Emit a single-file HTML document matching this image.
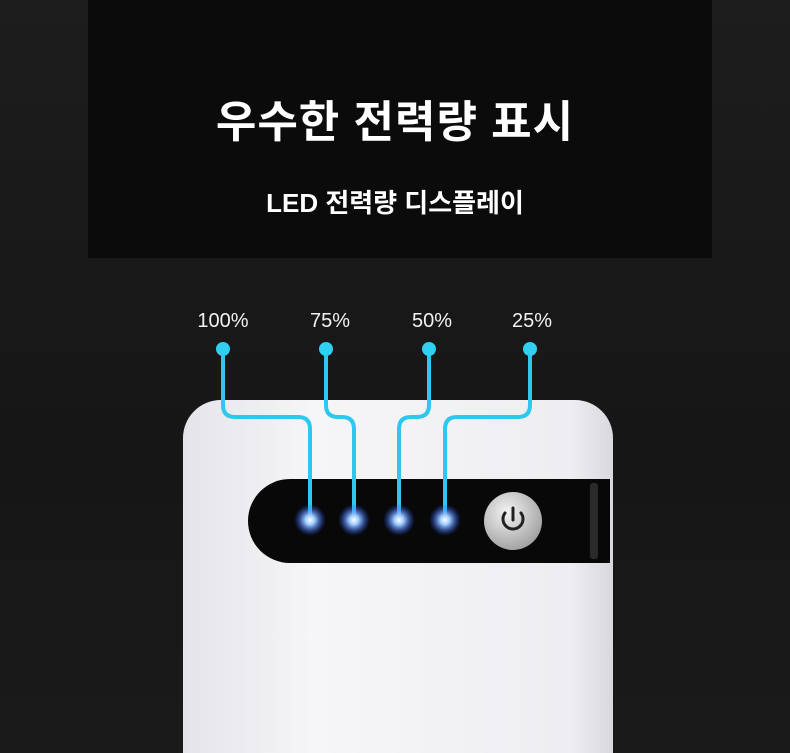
<!DOCTYPE html>
<html><head><meta charset="utf-8"><style>
html,body{margin:0;padding:0;overflow:hidden;width:790px;height:753px}
body{position:relative;background:linear-gradient(#1d1d1d,#161616 60%,#1a1a1a);font-family:"Liberation Sans","Noto Sans CJK KR",sans-serif;color:#fff}
.panel{position:absolute;left:88px;top:0;width:624px;height:258px;background:#0b0b0b}
.t1{position:absolute;left:0;width:790px;top:86px;text-align:center;font-size:44px;font-weight:bold;letter-spacing:1px}
.t2{position:absolute;left:0;width:790px;top:183px;text-align:center;font-size:26px;font-weight:bold}
.lbl{position:absolute;top:310px;font-size:20px;width:80px;text-align:center;color:#f2f2f2}
.body{position:absolute;left:183px;top:400px;width:430px;height:353px;background:linear-gradient(90deg,#e4e4ea,#f6f6f8 30%,#eeeef2 90%,#d8d8de);border-radius:38px 38px 0 0}
.band{position:absolute;left:248px;top:479px;width:362px;height:84px;background:#080808;border-radius:42px 0 0 42px}
.strip{position:absolute;left:590px;top:483px;width:8px;height:76px;background:#2a2a2a;border-radius:3px}
.btn{position:absolute;left:484px;top:492px;width:58px;height:58px;border-radius:50%;background:radial-gradient(circle at 40% 35%,#f4f4f4,#a8a8a8 70%,#777);}
</style></head><body>
<div class="panel"></div>
<div class="t1">우수한 전력량 표시</div>
<div class="t2">LED 전력량 디스플레이</div>
<div class="lbl" style="left:183px">100%</div>
<div class="lbl" style="left:290px">75%</div>
<div class="lbl" style="left:392px">50%</div>
<div class="lbl" style="left:492px">25%</div>
<div class="body"></div>
<div class="band"></div>
<div class="strip"></div>
<div class="btn"></div>
<svg width="790" height="753" style="position:absolute;left:0;top:0">
<defs><radialGradient id="g"><stop offset="0" stop-color="#fff"/><stop offset="0.3" stop-color="#9ecbff"/><stop offset="1" stop-color="#1a4cff" stop-opacity="0"/></radialGradient></defs>
<g fill="none" stroke="#2ec8ee" stroke-width="4" stroke-linecap="round">
<path d="M223 349 V405 Q223 417 235 417 H298 Q310 417 310 429 V520"/>
<path d="M326 349 V405 Q326 417 338 417 H342 Q354 417 354 429 V520"/>
<path d="M429 349 V405 Q429 417 417 417 H411 Q399 417 399 429 V520"/>
<path d="M530 349 V405 Q530 417 518 417 H457 Q445 417 445 429 V520"/>
</g>
<g fill="#2fd0f0"><circle cx="223" cy="349" r="7"/><circle cx="326" cy="349" r="7"/><circle cx="429" cy="349" r="7"/><circle cx="530" cy="349" r="7"/></g>
<g fill="url(#g)"><circle cx="310" cy="520" r="16"/><circle cx="354" cy="520" r="16"/><circle cx="399" cy="520" r="16"/><circle cx="445" cy="520" r="16"/></g>
<g fill="none" stroke="#222" stroke-width="3" stroke-linecap="round"><path d="M505 513 A10 10 0 1 0 521 513"/><path d="M513 508 V520"/></g>
</svg>
</body></html>
